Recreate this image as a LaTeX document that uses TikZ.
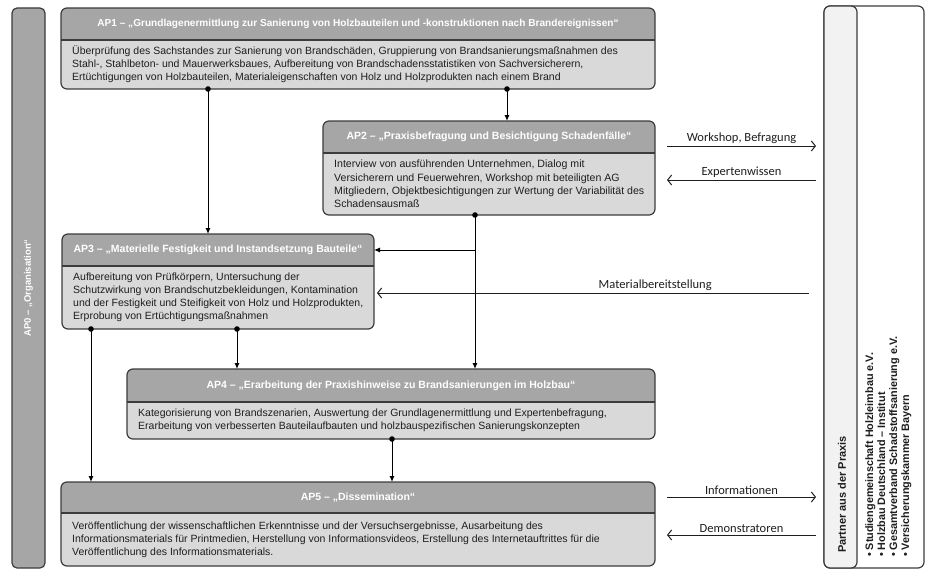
\documentclass[tikz,border=0pt]{standalone}
\usepackage{fontspec}
\setmainfont{Liberation Sans}
\newfontfamily\calfont{Carlito}
\usetikzlibrary{arrows.meta,fit,calc}
\definecolor{hdrgray}{HTML}{A6A6A6}
\definecolor{bodygray}{HTML}{D9D9D9}
\definecolor{framegray}{HTML}{3C3C3C}
\definecolor{stripgray}{HTML}{F2F2F2}
\definecolor{txt}{HTML}{1E1E1E}

% [body options], name, x1, y1, x2, ymid, y2, header, body
\newcommand\apbox[9][]{%
  \fill[bodygray, rounded corners=6pt] (#3,#4) rectangle (#5,#7);
  \begin{scope}
    \clip[rounded corners=6pt] (#3,#4) rectangle (#5,#7);
    \fill[hdrgray] (#3,#4) rectangle (#5,#6);
  \end{scope}
  \draw[frame] (#3,#6) -- (#5,#6);
  \node[fit={(#3,#4) (#5,#7)}, inner sep=0pt, outer sep=0pt, frame, rounded corners=6pt] (#2) {};
  \node[hdrtext] (#2h) at ({(#3+#5)/2},{(#4+#6)/2}) {#8};
  \node[bodytext, anchor=west, #1] (#2b) at ({#3+11},{(#6+#7)/2}) {#9};
}

\begin{document}
\begin{tikzpicture}[x=1pt,y=-1pt,
  frame/.style={draw=framegray, line width=1.2pt},
  hdrtext/.style={text=white, font=\fontsize{10.5}{12}\selectfont\bfseries, inner sep=0pt},
  bodytext/.style={font=\fontsize{10.5}{13}\selectfont, align=left, inner sep=0pt, text=txt},
  spacedbody/.style={font=\fontsize{10.6}{13.3}\selectfont},
  conn/.style={draw=black, line width=1pt, -{Latex[length=6pt,width=5pt]}},
  parr/.style={draw=txt, line width=1pt, -{Straight Barb[length=4pt,width=10pt]}},
  lbl/.style={font=\calfont\fontsize{12.5}{14}\selectfont, inner sep=2pt, text=txt}]

\useasboundingbox (0,0) rectangle (936,578);
\fill[white] (0,0) rectangle (936,578);

% AP0 bar
\node[fit={(12,8) (45,568)}, inner sep=0pt, outer sep=0pt, frame, fill=hdrgray, rounded corners=5pt] (ap0) {};
\node[rotate=90, text=white, font=\fontsize{9.5}{11}\selectfont\bfseries] (ap0t) at (ap0.center) {AP0 – „Organisation“};

% Partner box
\node[fit={(824,6) (924,568)}, inner sep=0pt, outer sep=0pt, frame, fill=white, rounded corners=6pt] (partner) {};
\node[fit={(824,6) (857,568)}, inner sep=0pt, outer sep=0pt, frame, fill=stripgray, rounded corners=6pt] (strip) {};
\node[rotate=90, anchor=west, inner sep=0pt, font=\fontsize{11}{12}\selectfont\bfseries, text=txt] (ptitle) at (842,553) {Partner aus der Praxis};
\node[rotate=90, anchor=north west, inner sep=0pt, align=left, font=\fontsize{10.8}{12}\selectfont\bfseries, text=txt] (plist) at (865,557)
  {• Studiengemeinschaft Holzleimbau e.V.\\• Holzbau Deutschland – Institut\\• Gesamtverband Schadstoffsanierung e.V.\\• Versicherungskammer Bayern};

% AP boxes
\apbox{ap1}{61}{8}{655}{40}{89}
  {{\fontsize{10.1}{11}\selectfont AP1 – „Grundlagenermittlung zur Sanierung von Holzbauteilen und -konstruktionen nach Brandereignissen“}}
  {Überprüfung des Sachstandes zur Sanierung von Brandschäden, Gruppierung von Brandsanierungsmaßnahmen des\\Stahl-, Stahlbeton- und Mauerwerksbaues, Aufbereitung von Brandschadensstatistiken von Sachversicherern,\\Ertüchtigungen von Holzbauteilen, Materialeigenschaften von Holz und Holzprodukten nach einem Brand}
\apbox[spacedbody]{ap2}{323}{121}{655}{153}{215}
  {AP2 – „Praxisbefragung und Besichtigung Schadenfälle“}
  {Interview von ausführenden Unternehmen, Dialog mit\\Versicherern und Feuerwehren, Workshop mit beteiligten AG\\Mitgliedern, Objektbesichtigungen zur Wertung der Variabilität des\\Schadensausmaß}
\apbox{ap3}{62}{234}{374}{266}{329}
  {AP3 – „Materielle Festigkeit und Instandsetzung Bauteile“}
  {Aufbereitung von Prüfkörpern, Untersuchung der\\Schutzwirkung von Brandschutzbekleidungen, Kontamination\\und der Festigkeit und Steifigkeit von Holz und Holzprodukten,\\Erprobung von Ertüchtigungsmaßnahmen}
\apbox{ap4}{127}{369}{655}{402}{439}
  {AP4 – „Erarbeitung der Praxishinweise zu Brandsanierungen im Holzbau“}
  {Kategorisierung von Brandszenarien, Auswertung der Grundlagenermittlung und Expertenbefragung,\\Erarbeitung von verbesserten Bauteilaufbauten und holzbauspezifischen Sanierungskonzepten}
\apbox{ap5}{61}{482}{655}{513}{566}
  {AP5 – „Dissemination“}
  {Veröffentlichung der wissenschaftlichen Erkenntnisse und der Versuchsergebnisse, Ausarbeitung des\\Informationsmaterials für Printmedien, Herstellung von Informationsvideos, Erstellung des Internetauftrittes für die\\Veröffentlichung des Informationsmaterials.}

% helper coordinates
\coordinate (xa) at (208,0);
\coordinate (xb) at (507,0);
\coordinate (xc) at (475,0);
\coordinate (xd) at (91,0);
\coordinate (xe) at (237,0);
\coordinate (xf) at (392,0);
\coordinate (yb) at (0,250);
\coordinate (yW) at (0,146);
\coordinate (yE) at (0,180);
\coordinate (yM) at (0,293);
\coordinate (yI) at (0,497);
\coordinate (yD) at (0,535);

% internal connectors
\draw[conn] (ap1.south -| xa) -- (ap3.north -| xa);
\draw[conn] (ap1.south -| xb) -- (ap2.north -| xb);
\draw[conn] (ap2.south -| xc) -- (ap4.north -| xc);
\draw[conn] (xc |- yb) -- (ap3.east |- yb);
\draw[conn] (ap3.south -| xd) -- (ap5.north -| xd);
\draw[conn] (ap3.south -| xe) -- (ap4.north -| xe);
\draw[conn] (ap4.south -| xf) -- (ap5.north -| xf);
\foreach \p in {(ap1.south -| xa),(ap1.south -| xb),(ap2.south -| xc),(ap3.south -| xd),(ap3.south -| xe),(ap4.south -| xf)}
  \fill[black] \p circle (2.8pt);

% partner connectors
\draw[parr] ($(ap2.east |- yW)+(12,0)$) -- ($(partner.west |- yW)+(-8,0)$) node[midway, above, lbl] {Workshop, Befragung};
\draw[parr] ($(partner.west |- yE)+(-8,0)$) -- ($(ap2.east |- yE)+(12,0)$) node[midway, above, lbl] {Expertenwissen};
\draw[parr] ($(partner.west |- yM)+(-15,0)$) -- ($(ap3.east |- yM)+(3,0)$) node[pos=0.356, above, lbl] {Materialbereitstellung};
\draw[parr] ($(ap5.east |- yI)+(12,0)$) -- ($(partner.west |- yI)+(-8,0)$) node[midway, above, lbl] {Informationen};
\draw[parr] ($(partner.west |- yD)+(-8,0)$) -- ($(ap5.east |- yD)+(12,0)$) node[midway, above, lbl] {Demonstratoren};
\end{tikzpicture}
\end{document}
